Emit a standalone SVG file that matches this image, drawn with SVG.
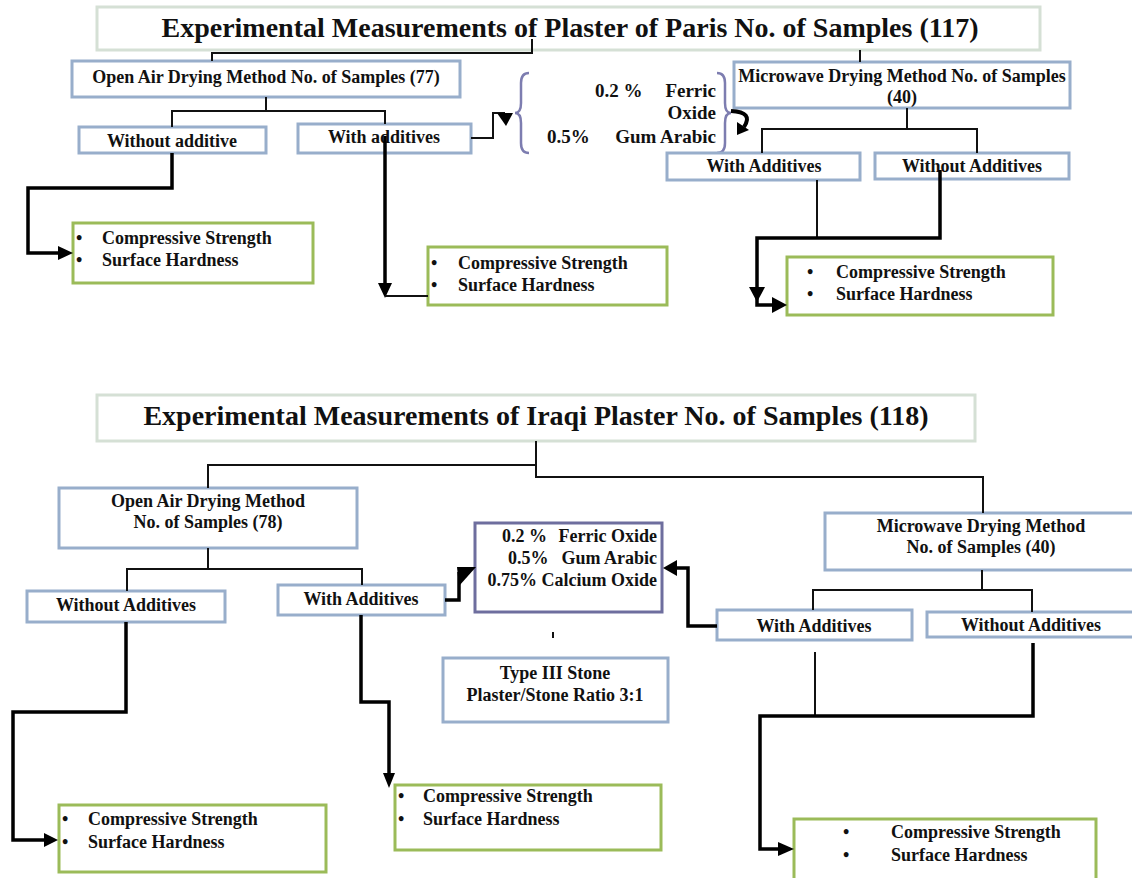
<svg xmlns="http://www.w3.org/2000/svg" width="1132" height="878" viewBox="0 0 1132 878">
<style>
.t{font-family:"Liberation Serif","Times New Roman",serif;font-weight:bold;fill:#111}
.title{font-size:28px}
.lbl{font-size:18px}
.add{font-size:19px}
.m{text-anchor:middle}
.e{text-anchor:end}
.b{fill:#fff;stroke:#98aecb;stroke-width:3}
.g{fill:#fff;stroke:#9bbb59;stroke-width:3}
.h{fill:#fff;stroke:#d5e0d5;stroke-width:3}
.p{fill:#fff;stroke:#6e6e9e;stroke-width:3}
.ln{fill:none;stroke:#111;stroke-width:2}
.tk{fill:none;stroke:#000;stroke-width:3.5}
.ah{fill:#000}
.br{fill:none;stroke:#7d7db0;stroke-width:2.5}
</style>
<rect width="1132" height="878" fill="#fff"/>

<g id="title1"><rect class="h" x="97" y="7" width="943" height="43"/><text class="t title m" x="570" y="37">Experimental Measurements of Plaster of Paris No. of Samples (117)</text></g>
<g id="openair1"><rect class="b" x="72" y="61" width="388" height="36"/><text class="t lbl m" x="266" y="83">Open Air Drying Method No. of Samples (77)</text></g>
<g id="without1"><rect class="b" x="79" y="127" width="187" height="26"/><text class="t lbl m" x="172" y="147">Without additive</text></g>
<g id="with1"><rect class="b" x="298" y="124" width="173" height="29"/><text class="t lbl m" x="384" y="143">With additives</text></g>
<g id="additives1">
<path class="br" d="M529,73 Q521,73 521,83 L521,103 Q521,113 515,113 Q521,113 521,123 L521,143 Q521,153 529,153"/>
<path class="br" d="M717,73 Q725,73 725,83 L725,103 Q725,113 731,113 Q725,113 725,123 L725,143 Q725,153 717,153"/>
<text class="t add" x="595" y="97">0.2 %</text><text class="t add e" x="716" y="97">Ferric</text>
<text class="t add e" x="716" y="119">Oxide</text>
<text class="t add" x="547" y="143">0.5%</text><text class="t add e" x="716" y="143">Gum Arabic</text>
</g>
<g id="microwave1"><rect class="b" x="734" y="62" width="336" height="46"/><text class="t lbl m" x="902" y="82">Microwave Drying Method No. of Samples</text><text class="t lbl m" x="902" y="103">(40)</text></g>
<g id="with1r"><rect class="b" x="667" y="153" width="193" height="27"/><text class="t lbl m" x="764" y="172">With Additives</text></g>
<g id="without1r"><rect class="b" x="875" y="153" width="194" height="26"/><text class="t lbl m" x="972" y="172">Without Additives</text></g>
<g id="result1a"><rect class="g" x="73" y="223" width="240" height="60"/><text class="t lbl" x="76" y="244">•</text><text class="t lbl" x="102" y="244">Compressive Strength</text><text class="t lbl" x="76" y="266">•</text><text class="t lbl" x="102" y="266">Surface Hardness</text></g>
<g id="result1b"><rect class="g" x="428" y="247" width="239" height="58"/><text class="t lbl" x="431" y="269">•</text><text class="t lbl" x="458" y="269">Compressive Strength</text><text class="t lbl" x="431" y="291">•</text><text class="t lbl" x="458" y="291">Surface Hardness</text></g>
<g id="result1c"><rect class="g" x="787" y="257" width="266" height="58"/><text class="t lbl" x="807" y="278">•</text><text class="t lbl" x="836" y="278">Compressive Strength</text><text class="t lbl" x="807" y="300">•</text><text class="t lbl" x="836" y="300">Surface Hardness</text></g>

<g id="title2"><rect class="h" x="97" y="395" width="878" height="46"/><text class="t title m" x="536" y="425">Experimental Measurements of Iraqi Plaster No. of Samples (118)</text></g>
<g id="openair2"><rect class="b" x="59" y="488" width="298" height="60"/><text class="t lbl m" x="208" y="507">Open Air Drying Method</text><text class="t lbl m" x="208" y="528">No. of Samples (78)</text></g>
<g id="without2"><rect class="b" x="27" y="591" width="198" height="31"/><text class="t lbl m" x="126" y="611">Without Additives</text></g>
<g id="with2"><rect class="b" x="278" y="585" width="167" height="30"/><text class="t lbl m" x="361" y="605">With Additives</text></g>
<g id="additives2"><rect class="p" x="475" y="523" width="187" height="89"/>
<text class="t lbl" x="502" y="542">0.2 %</text><text class="t lbl e" x="657" y="542">Ferric Oxide</text>
<text class="t lbl" x="508" y="564">0.5%</text><text class="t lbl e" x="657" y="564">Gum Arabic</text>
<text class="t lbl e" x="657" y="586">0.75% Calcium Oxide</text></g>
<g id="stone"><rect class="b" x="443" y="658" width="225" height="64"/><text class="t lbl m" x="555" y="679">Type III Stone</text><text class="t lbl m" x="555" y="701">Plaster/Stone Ratio 3:1</text></g>
<g id="microwave2"><rect class="b" x="825" y="513" width="320" height="57"/><text class="t lbl m" x="981" y="532">Microwave Drying Method</text><text class="t lbl m" x="981" y="553">No. of Samples (40)</text></g>
<g id="with2r"><rect class="b" x="717" y="610" width="195" height="30"/><text class="t lbl m" x="814" y="632">With Additives</text></g>
<g id="without2r"><rect class="b" x="927" y="612" width="220" height="25"/><text class="t lbl m" x="1031" y="631">Without Additives</text></g>
<g id="result2a"><rect class="g" x="59" y="805" width="267" height="67"/><text class="t lbl" x="62" y="825">•</text><text class="t lbl" x="88" y="825">Compressive Strength</text><text class="t lbl" x="62" y="848">•</text><text class="t lbl" x="88" y="848">Surface Hardness</text></g>
<g id="result2b"><rect class="g" x="395" y="785" width="266" height="65"/><text class="t lbl" x="398" y="802">•</text><text class="t lbl" x="423" y="802">Compressive Strength</text><text class="t lbl" x="398" y="825">•</text><text class="t lbl" x="423" y="825">Surface Hardness</text></g>
<g id="result2c"><rect class="g" x="794" y="819" width="302" height="72"/><text class="t lbl" x="843" y="838">•</text><text class="t lbl" x="891" y="838">Compressive Strength</text><text class="t lbl" x="843" y="861">•</text><text class="t lbl" x="891" y="861">Surface Hardness</text></g>

<g id="connectors">
<path class="ln" d="M532,39 V53 H212 V61"/>
<path class="ln" d="M860,50 V62"/>
<path class="ln" d="M266,97 V111 H172 V127 M266,111 H385 V124"/>
<path class="tk" d="M172,153 V188 H28 V253 H60"/><polygon class="ah" points="58,246 58,260 73,253"/>
<path class="tk" d="M385,136 V285"/><polygon class="ah" points="378,283 392,283 385,298"/>
<path class="ln" d="M385,296 H428"/>
<path class="ln" d="M471,138 H493 V113 H505"/><polygon class="ah" points="497,113 513,113 506,126"/>
<path fill="none" stroke="#000" stroke-width="4" d="M731,111 Q754,112 744,127"/><polygon class="ah" points="749,130 737,122 737,135"/>
<path class="ln" d="M907,108 V129 M762,153 V129 H977 V153"/>
<path class="ln" stroke-width="2.5" d="M817,180 V238"/>
<path class="tk" stroke-width="4" d="M940,170 V238 H757 V305 H773"/><polygon class="ah" points="749,287 765,287 757,302"/><polygon class="ah" points="772,297 772,313 787,305"/>

<path class="ln" d="M536,441 V477 H983 V513 M536,465 H208 V488"/>
<path class="ln" d="M208,548 V569 M127,591 V569 H362 V585"/>
<path class="tk" d="M445,600 H459 V572"/><polygon class="ah" points="457,567 476,567 459,586"/>
<path class="ln" d="M553,632 V638"/>
<path class="ln" d="M982,570 V590 M813,610 V590 H1032 V612"/>
<path class="tk" d="M717,626 H688 V568 H676"/><polygon class="ah" points="677,560 677,576 663,568"/>
<path class="ln" d="M815,652 V716"/>
<path class="tk" stroke-width="3" d="M1033,643 V716 H760 V849 H779"/><polygon class="ah" points="778,842 778,856 794,849"/>
<path class="tk" stroke-width="3" d="M126,622 V712 H13 V840 H45"/><polygon class="ah" points="44,833 44,847 58,840"/>
<path class="tk" stroke-width="3" d="M361,615 V702 H389 V775"/><polygon class="ah" points="383,773 395,773 389,788"/>
</g>
</svg>
